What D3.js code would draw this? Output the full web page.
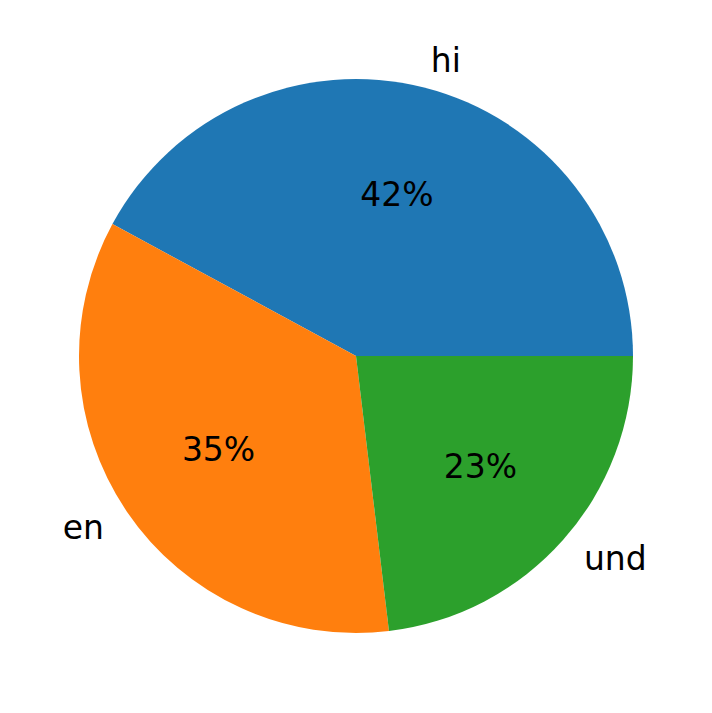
<!DOCTYPE html>
<html><head><meta charset="utf-8">
<script src="https://cdn.jsdelivr.net/npm/d3@7"></script>
<style>body{margin:0;background:#fff}</style></head>
<body><svg id="c" width="712" height="713"></svg>
<script>
const categories = ["hi", "en", "und"];
const values = [42.1, 34.8, 23.1];
const colors = ["#1f77b4", "#ff7f0e", "#2ca02c"];
const cx = 356, cy = 356, r = 277;
const svg = d3.select("#c");
const g = svg.append("g").attr("transform", `translate(${cx},${cy})`);
const pie = d3.pie().sort(null).startAngle(Math.PI/2).endAngle(Math.PI/2 - 2*Math.PI);
const arcs = pie(values);
const arc = d3.arc().innerRadius(0).outerRadius(r);
g.selectAll("path").data(arcs).join("path").attr("d", arc).attr("fill", (d,i)=>colors[i]);
const font = "DejaVu Sans, sans-serif";
arcs.forEach((d,i)=>{
  const m = (d.startAngle + d.endAngle)/2;
  const x = Math.sin(m), y = -Math.cos(m);
  g.append("text").attr("x", x*r*1.1).attr("y", y*r*1.1).attr("dy","0.35em")
    .attr("text-anchor", x>0?"start":"end").attr("font-family",font).attr("font-size",33)
    .text(categories[i]);
  g.append("text").attr("x", x*r*0.6).attr("y", y*r*0.6).attr("dy","0.35em")
    .attr("text-anchor","middle").attr("font-family",font).attr("font-size",33)
    .text(Math.round(values[i])+"%");
});
</script></body></html>
